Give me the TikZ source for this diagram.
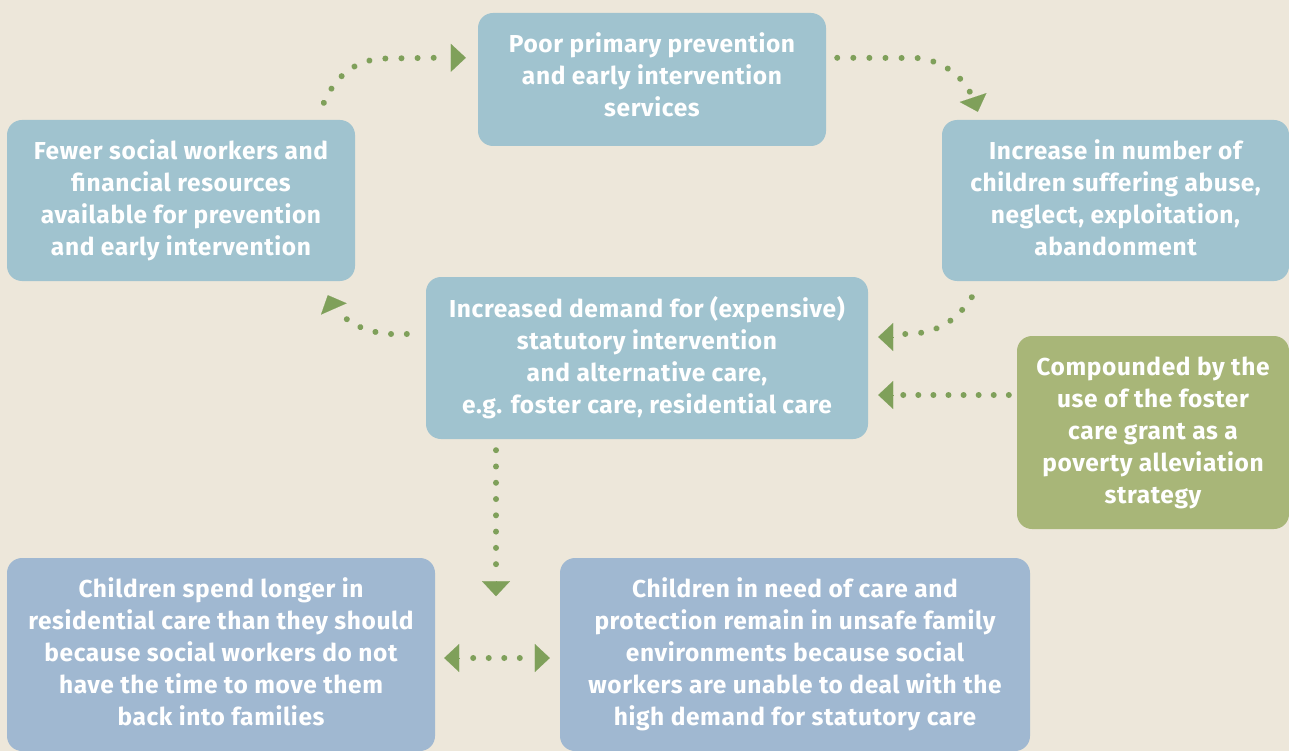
\documentclass[tikz,border=0pt]{standalone}
\usepackage{fontspec}
\setmainfont{Fira Sans}[LetterSpace=2.5]
\usetikzlibrary{arrows.meta,calc,decorations.markings}
\definecolor{bgc}{HTML}{EDE7DA}
\definecolor{boxc}{HTML}{A0C3CF}
\definecolor{boxb}{HTML}{A0B8D1}
\definecolor{greenbox}{HTML}{A8B678}
\definecolor{arrowc}{HTML}{7FA05A}
\begin{document}
\begin{tikzpicture}[x=1pt,y=-1pt,
  box/.style={rounded corners=15pt, fill=boxc, draw=none, text=white,
    font=\bfseries\fontsize{24.5}{32}\selectfont, align=center, inner sep=0pt,
    execute at end node={\rule[-#1]{0pt}{#1}}},
  box/.default=5pt,
  dotline/.style={postaction={decorate}, decoration={markings,
    mark=between positions 0 and 1 step #1 with {\fill[arrowc] (0,0) circle (3pt);}}},
  headtip/.style={draw=arrowc, line width=0.1pt, -{Triangle[length=15pt,width=28pt]}}]
\fill[bgc] (0,0) rectangle (1289,751);
\useasboundingbox (0,0) rectangle (1289,751);

\node[box=10pt, minimum width=348pt, minimum height=133pt] (poor) at (652,79.5)
  {Poor primary prevention\\and early intervention\\services};
\node[box, minimum width=348pt, minimum height=161pt] (fewer) at (181,200.5)
  {Fewer social workers and\\financial resources\\available for prevention\\and early intervention};
\node[box, minimum width=347pt, minimum height=161pt] (incr) at (1115.5,200.5)
  {Increase in number of\\children suffering abuse,\\neglect, exploitation,\\abandonment};
\node[box, minimum width=442pt, minimum height=162pt] (demand) at (647,358)
  {Increased demand for (expensive)\\statutory intervention\\and alternative care,\\e.g. foster care, residential care};
\node[box, fill=greenbox, minimum width=272pt, minimum height=193pt] (comp) at (1153,432.5)
  {Compounded by the\\use of the foster\\care grant as a\\poverty alleviation\\strategy};
\node[box, fill=boxb, minimum width=428pt, minimum height=193pt] (spend) at (221,654.5)
  {Children spend longer in\\residential care than they should\\because social workers do not\\have the time to move them\\back into families};
\node[box, fill=boxb, minimum width=470pt, minimum height=193pt] (unsafe) at (795,654.5)
  {Children in need of care and\\protection remain in unsafe family\\environments because social\\workers are unable to deal with the\\high demand for statutory care};

% fewer -> poor
\path[dotline=0.1249] ($(fewer.north west)+(317,-17)$) .. controls (334,80) and (352,59) .. (386,58.5) -- ($(poor.north west)+(-44,45)$);
\draw[headtip] ($(poor.north west)+(-27,45)$) -- ($(poor.north west)+(-12,45)$);
% poor -> incr
\path[dotline=0.1110] ($(poor.north east)+(11,45)$) -- (917,58) .. controls (940,60) and (960,74) .. ($(incr.north west)+(28,-28)$);
\draw[headtip] ($(incr.north west)+(31.5,-21.5)$) -- ($(incr.north west)+(36,-8)$);
% incr -> demand
\path[dotline=0.1999] ($(incr.south west)+(30,16)$) .. controls (958,318) and (940,334) .. ($(demand.east)+(37,-24)$);
\draw[headtip] ($(demand.east)+(25,-21)$) -- ($(demand.east)+(10,-21)$);
% comp -> demand
\path[dotline=0.1428] ($(comp.west)+(-8,-37.5)$) -- ($(demand.east)+(35,37)$);
\draw[headtip] ($(demand.east)+(25,37)$) -- ($(demand.east)+(10,37)$);
% demand -> fewer
\path[dotline=0.2499] ($(demand.west)+(-19,-24)$) -- (391,334) .. controls (372,333) and (357,327) .. ($(fewer.south west)+(340,38)$);
\draw[headtip] ($(fewer.south west)+(326.5,26.5)$) -- ($(fewer.south west)+(321,14)$);
% demand -> down
\coordinate (downtip) at ($(demand.south)+(-151,157)$);
\path[dotline=0.1428] ($(demand.south)+(-151,11)$) -- ($(demand.south)+(-151,125)$);
\draw[headtip] ($(downtip)+(0,-15)$) -- (downtip);
% spend <-> unsafe
\path[dotline=0.3333] ($(spend.east)+(38,3.5)$) -- ($(unsafe.west)+(-40,3.5)$);
\draw[headtip] ($(spend.east)+(24,3.5)$) -- ($(spend.east)+(9,3.5)$);
\draw[headtip] ($(unsafe.west)+(-25,3.5)$) -- ($(unsafe.west)+(-10,3.5)$);
\end{tikzpicture}
\end{document}
